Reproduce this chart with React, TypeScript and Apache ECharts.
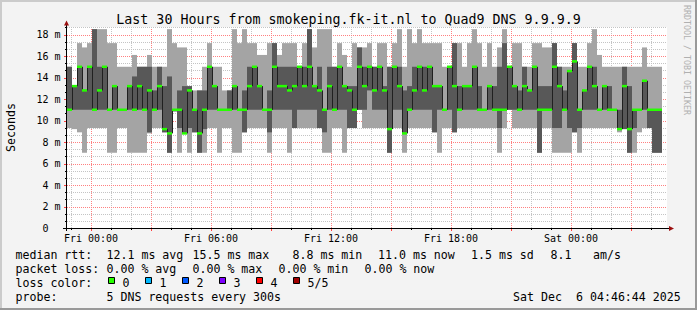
import React, { useEffect, useRef } from 'react';
import * as echarts from 'echarts';

const FONT = '"DejaVu Sans Mono", "Liberation Mono", monospace';

// ---- axes (x in hours relative to Fri 00:00, y in ms) ----
const X_MIN = -1.175;
const X_MAX = 28.825;
const Y_MAX = 18.7;
const BIN_HOURS = 0.25;

// ---- RTT percentiles per 15-minute bin (ms) ----
const RTT_MAX = [
  15.0, 13.2, 17.2, 16.8, 17.2, 18.5, 18.5, 18.5, 17.2, 17.2,
  15.0, 15.0, 15.0, 16.1, 15.0, 15.0, 16.1, 15.0, 15.0, 15.0,
  18.5, 17.2, 16.8, 16.8, 13.2, 12.8, 12.8, 15.0, 17.2, 15.0,
  15.0, 12.8, 12.8, 18.5, 17.2, 18.5, 17.2, 17.2, 16.1, 16.1,
  17.2, 17.2, 16.1, 17.2, 17.2, 17.2, 15.0, 17.2, 18.5, 16.8,
  18.5, 18.5, 18.5, 15.0, 17.2, 16.1, 15.0, 17.2, 16.8, 16.8,
  17.2, 15.0, 17.2, 17.2, 15.0, 17.2, 18.5, 15.0, 18.5, 17.2,
  18.5, 17.2, 17.2, 17.2, 17.2, 15.0, 15.0, 17.2, 17.2, 15.0,
  17.2, 18.5, 17.2, 15.0, 17.2, 15.0, 16.8, 18.5, 15.0, 17.2,
  17.2, 15.0, 15.0, 17.2, 17.2, 16.8, 16.8, 17.2, 15.0, 15.0,
  15.0, 17.2, 15.0, 15.0, 17.2, 18.5, 16.1, 15.0, 15.0, 15.0,
  15.0, 15.0, 15.0, 15.0, 15.0, 16.8, 15.0, 15.0, 15.0,
];
const RTT_P4 = [
  15.0, 13.2, 15.0, 12.8, 15.0, 18.5, 15.0, 15.0, 11.0, 13.2,
  11.0, 11.0, 13.2, 14.1, 15.0, 15.0, 15.0, 12.8, 15.0, 13.2,
  14.1, 11.0, 12.8, 13.2, 13.2, 11.0, 12.8, 12.8, 15.0, 13.2,
  11.0, 11.0, 12.8, 13.2, 11.0, 12.8, 15.0, 15.0, 13.2, 11.0,
  12.8, 17.2, 15.0, 15.0, 15.0, 15.0, 15.0, 15.0, 18.5, 13.2,
  15.0, 11.0, 15.0, 15.0, 15.0, 13.2, 13.2, 13.2, 16.8, 15.0,
  15.0, 15.0, 15.0, 13.2, 15.0, 15.0, 15.0, 12.8, 13.2, 15.0,
  15.0, 15.0, 15.0, 13.2, 13.2, 11.0, 15.0, 17.2, 13.2, 13.2,
  13.2, 15.0, 13.2, 11.0, 13.2, 13.2, 15.0, 17.2, 15.0, 13.2,
  12.8, 15.0, 12.8, 15.0, 13.2, 13.2, 13.2, 17.2, 15.0, 12.8,
  14.6, 17.2, 11.0, 12.8, 15.0, 15.0, 11.0, 13.2, 13.2, 11.0,
  11.0, 15.0, 13.2, 11.0, 11.0, 13.7, 11.0, 11.0, 11.0,
];
const RTT_MEDIAN = [
  11.0, 13.2, 15.0, 12.8, 15.0, 11.0, 12.8, 15.0, 11.0, 13.2,
  11.0, 11.0, 13.2, 11.0, 13.2, 11.0, 12.8, 11.0, 13.2, 9.2,
  8.8, 11.0, 11.0, 8.8, 12.8, 11.0, 8.8, 11.0, 15.0, 13.2,
  11.0, 11.0, 11.0, 13.2, 11.0, 11.0, 13.2, 15.0, 13.2, 11.0,
  11.0, 15.0, 13.2, 13.2, 12.8, 13.2, 15.0, 13.2, 15.0, 13.2,
  12.8, 11.0, 13.2, 11.0, 15.0, 13.2, 12.8, 11.0, 15.0, 13.2,
  15.0, 12.8, 15.0, 12.8, 9.2, 15.0, 13.2, 8.8, 11.0, 12.8,
  15.0, 12.8, 15.0, 13.2, 13.2, 11.0, 15.0, 13.2, 11.0, 13.2,
  13.2, 15.0, 11.0, 11.0, 13.2, 11.0, 11.0, 11.0, 15.0, 13.2,
  11.0, 13.2, 12.8, 15.0, 11.0, 11.0, 11.0, 15.0, 13.2, 11.0,
  14.6, 15.5, 11.0, 12.8, 15.0, 13.2, 11.0, 13.2, 11.0, 11.0,
  9.2, 13.2, 9.2, 11.0, 11.0, 13.7, 11.0, 11.0, 11.0,
];
const RTT_P2 = [
  11.0, 11.0, 11.0, 11.0, 11.0, 11.0, 11.0, 11.0, 11.0, 11.0,
  11.0, 11.0, 11.0, 11.0, 11.0, 11.0, 8.9, 11.0, 11.0, 8.9,
  7.0, 11.0, 9.3, 8.8, 9.3, 8.9, 7.0, 9.2, 11.0, 11.0,
  11.0, 11.0, 11.0, 11.0, 11.0, 8.9, 11.0, 11.0, 11.0, 11.0,
  8.9, 11.0, 11.0, 11.0, 11.0, 9.3, 11.0, 11.0, 11.0, 11.0,
  9.3, 8.9, 11.0, 11.0, 11.0, 11.0, 9.3, 9.3, 11.0, 11.0,
  12.8, 11.0, 11.0, 11.0, 7.0, 11.0, 11.0, 8.8, 11.0, 11.0,
  11.0, 11.0, 11.0, 8.9, 11.0, 11.0, 11.0, 8.9, 11.0, 11.0,
  11.0, 11.0, 11.0, 11.0, 11.0, 11.0, 9.3, 11.0, 11.0, 11.0,
  11.0, 11.0, 11.0, 11.0, 7.0, 11.0, 11.0, 9.3, 9.3, 11.0,
  9.3, 8.9, 9.3, 11.0, 11.0, 11.0, 11.0, 11.0, 11.0, 11.0,
  9.2, 9.2, 7.0, 9.3, 11.0, 11.0, 9.3, 7.0, 7.0,
];
const RTT_MIN = [
  9.3, 9.2, 8.9, 7.0, 9.3, 9.3, 9.3, 9.3, 7.0, 7.0,
  9.3, 9.3, 7.0, 7.0, 7.0, 7.0, 8.8, 9.3, 9.3, 8.9,
  7.0, 10.8, 7.0, 8.8, 7.0, 8.9, 7.0, 7.0, 9.3, 9.3,
  7.0, 9.3, 9.3, 7.0, 7.0, 8.9, 9.3, 9.3, 9.3, 9.3,
  7.0, 9.3, 9.3, 9.3, 7.0, 9.3, 9.3, 9.3, 9.3, 9.3,
  9.3, 7.0, 7.0, 9.3, 9.3, 7.0, 9.3, 9.3, 11.0, 9.3,
  9.3, 9.3, 9.3, 9.3, 7.0, 9.3, 9.3, 7.0, 9.3, 9.3,
  9.3, 9.3, 9.3, 8.9, 7.0, 9.3, 9.3, 8.9, 9.3, 9.3,
  9.3, 9.3, 9.3, 9.3, 9.3, 9.3, 7.0, 9.3, 11.0, 9.3,
  9.3, 9.3, 9.3, 9.3, 7.0, 9.3, 9.3, 7.0, 7.0, 7.0,
  7.0, 8.9, 7.0, 9.3, 9.3, 9.3, 9.3, 9.3, 9.3, 9.3,
  8.9, 9.2, 7.0, 7.0, 8.9, 9.3, 9.3, 7.0, 7.0,
];

// ---- ticks and labels ----
const X_TICK_HOURS = [-1, 0, 1, 2, 3, 4, 5, 6, 7, 8, 9, 10, 11, 12, 13, 14, 15, 16, 17, 18, 19, 20, 21, 22, 23, 24, 25, 26, 27, 28];
const X_LABEL_HOURS = [0, 6, 12, 18, 24];
const X_LABELS = ['Fri 00:00', 'Fri 06:00', 'Fri 12:00', 'Fri 18:00', 'Sat 00:00'];
const Y_LABEL_VALUES = [0, 2, 4, 6, 8, 10, 12, 14, 16, 18];
const Y_LABELS = ['0', '2 m', '4 m', '6 m', '8 m', '10 m', '12 m', '14 m', '16 m', '18 m'];
const Y_MINOR_STEPS = 28; // minor grid every 2/3 ms

// ---- texts ----
const TITLE = 'Last 30 Hours from smokeping.fk-it.nl to Quad9 DNS 9.9.9.9';
const RTT_STATS = ['12.1 ms avg', '15.5 ms max', '8.8 ms min', '11.0 ms now', '1.5 ms sd', '8.1', 'am/s'];
const LOSS_STATS = ['0.00 % avg', '0.00 % max', '0.00 % min', '0.00 % now'];
const LOSS_COLORS = ['#26ff00', '#00b8ff', '#0059ff', '#7e00ff', '#ff0000', '#a00000'];
const LOSS_LABELS = ['0', '1', '2', '3', '4', '5/5'];
const PROBE_TEXT = '5 DNS requests every 300s';
const DATE_PARTS = ['Sat Dec', '6 04:46:44 2025'];

// ---- layout ----
const GRID_L = 67;
const GRID_T = 27;
const GRID_W = 600;
const GRID_H = 201;
const RTT_STAT_X = [106.5, 192.5, 292.5, 378, 471, 550.5, 593];
const LOSS_STAT_X = [106.5, 192.5, 278.5, 364.5];
const BOX_X = [108, 145, 182, 219, 256, 293];
const LEG_Y = [254.5, 268.5, 282.5, 296.5];
const DATE_X = [513, 576];

const LIGHT = '#a4a4a4';
const DARK = '#585858';
const MGRID = '#ff8080';
const MINGRID = '#c4c4c4';

function txt(text: string, x: number, y: number, size: number, o: any = {}) {
  const align = o.align || 'left';
  return {
    type: 'text',
    x,
    y,
    rotation: o.rotation || 0,
    silent: true,
    z: 100,
    style: {
      text,
      x: 0,
      y: 0,
      fill: o.fill || '#000',
      font: `${size}px ${FONT}`,
      align,
      textAlign: align,
      verticalAlign: 'middle',
      textVerticalAlign: 'middle',
    },
  };
}

function buildOption() {
  const smokeData = RTT_MEDIAN.map((_, i) => [
    X_MIN + i * BIN_HOURS,
    X_MIN + (i + 1) * BIN_HOURS,
    RTT_MIN[i],
    RTT_P2[i],
    RTT_P4[i],
    RTT_MAX[i],
  ]);
  const medianData = RTT_MEDIAN.map((m, i) => [
    X_MIN + i * BIN_HOURS,
    X_MIN + (i + 1) * BIN_HOURS,
    m,
    i > 0 ? RTT_MEDIAN[i - 1] : m,
  ]);
  const vGridData = X_TICK_HOURS.map((h) => [h, 0]);
  const hGridData: number[][] = [];
  for (let k = 0; k <= Y_MINOR_STEPS; k++) hGridData.push([X_MIN, (k * 2) / 3]);

  const graphic: any[] = [
    // frame
    { type: 'rect', shape: { x: 0, y: 0, width: 697, height: 2 }, style: { fill: '#cbcbcb' }, z: 100, silent: true },
    { type: 'rect', shape: { x: 0, y: 0, width: 2, height: 310 }, style: { fill: '#cbcbcb' }, z: 100, silent: true },
    { type: 'rect', shape: { x: 695, y: 0, width: 2, height: 310 }, style: { fill: '#999999' }, z: 100, silent: true },
    { type: 'rect', shape: { x: 0, y: 308, width: 697, height: 2 }, style: { fill: '#999999' }, z: 100, silent: true },
    // axes
    { type: 'line', shape: { x1: GRID_L - 4, y1: GRID_T + GRID_H + 0.5, x2: GRID_L + GRID_W + 3, y2: GRID_T + GRID_H + 0.5 }, style: { stroke: '#000', lineWidth: 1 }, z: 100, silent: true },
    { type: 'line', shape: { x1: GRID_L - 0.5, y1: GRID_T + GRID_H + 3, x2: GRID_L - 0.5, y2: GRID_T - 2 }, style: { stroke: '#000', lineWidth: 1 }, z: 100, silent: true },
    { type: 'polygon', shape: { points: [[GRID_L + GRID_W + 7, GRID_T + GRID_H + 0.5], [GRID_L + GRID_W + 2, GRID_T + GRID_H - 2], [GRID_L + GRID_W + 2, GRID_T + GRID_H + 3]] }, style: { fill: '#9b0f0f' }, z: 101, silent: true },
    { type: 'polygon', shape: { points: [[GRID_L - 0.5, GRID_T - 6.5], [GRID_L - 3, GRID_T - 1.5], [GRID_L + 2, GRID_T - 1.5]] }, style: { fill: '#9b0f0f' }, z: 101, silent: true },
    // titles
    txt(TITLE, 348.5, 19.5, 13.3, { align: 'center' }),
    txt('Seconds', 11, 127.5, 11.6, { align: 'center', rotation: Math.PI / 2 }),
    txt('RRDTOOL / TOBI OETIKER', 687, 60, 8.3, { align: 'center', rotation: -Math.PI / 2, fill: '#b0b0b0' }),
    // legend
    txt('median rtt:', 15.5, LEG_Y[0], 11.6),
    txt('packet loss:', 15.5, LEG_Y[1], 11.6),
    txt('loss color:', 15.5, LEG_Y[2], 11.6),
    txt('probe:', 15.5, LEG_Y[3], 11.6),
    txt(PROBE_TEXT, 106.5, LEG_Y[3], 11.6),
    txt(DATE_PARTS[0], DATE_X[0], LEG_Y[3], 11.6),
    txt(DATE_PARTS[1], DATE_X[1], LEG_Y[3], 11.6),
  ];
  RTT_STATS.forEach((s, i) => graphic.push(txt(s, RTT_STAT_X[i], LEG_Y[0], 11.6)));
  LOSS_STATS.forEach((s, i) => graphic.push(txt(s, LOSS_STAT_X[i], LEG_Y[1], 11.6)));
  LOSS_COLORS.forEach((c, i) => {
    graphic.push({
      type: 'rect',
      shape: { x: BOX_X[i] + 0.5, y: 277.5, width: 6, height: 6 },
      style: { fill: c, stroke: '#000', lineWidth: 1 },
      z: 100,
      silent: true,
    });
    graphic.push(txt(LOSS_LABELS[i], BOX_X[i] + 14.5, LEG_Y[2], 11.6));
  });

  return {
    animation: false,
    backgroundColor: '#f3f3f3',
    grid: {
      left: GRID_L,
      top: GRID_T,
      width: GRID_W,
      height: GRID_H,
      show: true,
      backgroundColor: '#ffffff',
      borderWidth: 0,
      containLabel: false,
      outerBoundsMode: 'none',
    },
    xAxis: { type: 'value', min: X_MIN, max: X_MAX, show: false },
    yAxis: { type: 'value', min: 0, max: Y_MAX, show: false },
    graphic,
    series: [
      {
        name: 'vgrid',
        type: 'custom',
        coordinateSystem: 'cartesian2d',
        silent: true,
        z: 1,
        data: vGridData,
        encode: { x: 0, y: 1 },
        renderItem: (params: any, api: any) => {
          const h = api.value(0);
          const top = api.coord([h, Y_MAX]);
          const bot = api.coord([h, 0]);
          const major = h % 3 === 0;
          const x = Math.round(bot[0]) + 0.5;
          const children: any[] = [
            { type: 'line', shape: { x1: x, y1: top[1], x2: x, y2: bot[1] }, style: { stroke: major ? MGRID : MINGRID, lineWidth: 1, lineDash: [1, 1] } },
            { type: 'line', shape: { x1: x, y1: bot[1], x2: x, y2: bot[1] + (major ? 3 : 2) }, style: { stroke: major ? '#ff4040' : '#000', lineWidth: 1 } },
          ];
          const li = X_LABEL_HOURS.indexOf(h);
          if (li >= 0) {
            children.push({
              type: 'text',
              style: { text: X_LABELS[li], x: bot[0] + 0.5, y: bot[1] + 10, font: `10px ${FONT}`, fill: '#000', align: 'center', textAlign: 'center', verticalAlign: 'middle', textVerticalAlign: 'middle' },
            });
          }
          return { type: 'group', children };
        },
      },
      {
        name: 'hgrid',
        type: 'custom',
        coordinateSystem: 'cartesian2d',
        silent: true,
        z: 1,
        data: hGridData,
        encode: { x: 0, y: 1 },
        renderItem: (params: any, api: any) => {
          const v = api.value(1);
          const k = Math.round((v * 3) / 2);
          const major = k % 3 === 0;
          const p0 = api.coord([X_MIN, v]);
          const p1 = api.coord([X_MAX, v]);
          const y = Math.round(p0[1]) + 0.5;
          const children: any[] = [];
          if (k > 0) {
            children.push({ type: 'line', shape: { x1: p0[0], y1: y, x2: p1[0], y2: y }, style: { stroke: major ? MGRID : MINGRID, lineWidth: 1, lineDash: [1, 1] } });
            children.push({ type: 'line', shape: { x1: p0[0] - (major ? 3 : 2), y1: y, x2: p0[0], y2: y }, style: { stroke: major ? '#ff4040' : '#000', lineWidth: 1 } });
          }
          if (major) {
            const li = Y_LABEL_VALUES.indexOf(Math.round(v));
            if (li >= 0) {
              const isZero = Y_LABEL_VALUES[li] === 0;
              children.push({
                type: 'text',
                style: {
                  text: Y_LABELS[li],
                  x: isZero ? p0[0] - 6.5 - 18 : p0[0] - 6.5,
                  y: p0[1],
                  font: `10px ${FONT}`,
                  fill: '#000',
                  align: isZero ? 'left' : 'right',
                  textAlign: isZero ? 'left' : 'right',
                  verticalAlign: 'middle',
                  textVerticalAlign: 'middle',
                },
              });
            }
          }
          return { type: 'group', children };
        },
      },
      {
        name: 'smoke',
        type: 'custom',
        coordinateSystem: 'cartesian2d',
        silent: true,
        z: 2,
        data: smokeData,
        encode: { x: [0, 1], y: [2, 3, 4, 5] },
        renderItem: (params: any, api: any) => {
          const t0 = api.value(0);
          const t1 = api.value(1);
          const a = api.coord([t0, api.value(5)]);
          const b = api.coord([t1, api.value(2)]);
          const c = api.coord([t0, api.value(4)]);
          const d = api.coord([t1, api.value(3)]);
          const x0 = Math.round(a[0]);
          const x1 = Math.round(b[0]);
          const children: any[] = [
            { type: 'rect', shape: { x: x0, y: a[1], width: x1 - x0, height: b[1] - a[1] }, style: { fill: LIGHT } },
          ];
          if (d[1] - c[1] > 0.2) {
            children.push({ type: 'rect', shape: { x: x0, y: c[1], width: x1 - x0, height: d[1] - c[1] }, style: { fill: DARK } });
          }
          return { type: 'group', children };
        },
      },
      {
        name: 'median',
        type: 'custom',
        coordinateSystem: 'cartesian2d',
        silent: true,
        z: 3,
        data: medianData,
        encode: { x: [0, 1], y: [2, 3] },
        renderItem: (params: any, api: any) => {
          const t0 = api.value(0);
          const t1 = api.value(1);
          const m = api.value(2);
          const pm = api.value(3);
          const a = api.coord([t0, m]);
          const b = api.coord([t1, m]);
          const p = api.coord([t0, pm]);
          const x0 = Math.round(a[0]);
          const x1 = Math.round(b[0]);
          const children: any[] = [];
          if (pm !== m) {
            children.push({ type: 'line', shape: { x1: x0 + 0.5, y1: p[1], x2: x0 + 0.5, y2: a[1] }, style: { stroke: '#202020', lineWidth: 1 } });
          }
          children.push({ type: 'rect', shape: { x: x0, y: a[1] - 1.25, width: x1 - x0, height: 2.5 }, style: { fill: LOSS_COLORS[0] } });
          return { type: 'group', children };
        },
      },
    ],
  };
}

export default function App() {
  const ref = useRef<HTMLDivElement>(null);
  useEffect(() => {
    document.body.style.margin = '0';
    const chart = echarts.init(ref.current as HTMLDivElement, null, { renderer: 'svg' });
    chart.setOption(buildOption() as any);
    return () => {
      chart.dispose();
    };
  }, []);
  return <div ref={ref} style={{ width: 697, height: 310 }} />;
}
